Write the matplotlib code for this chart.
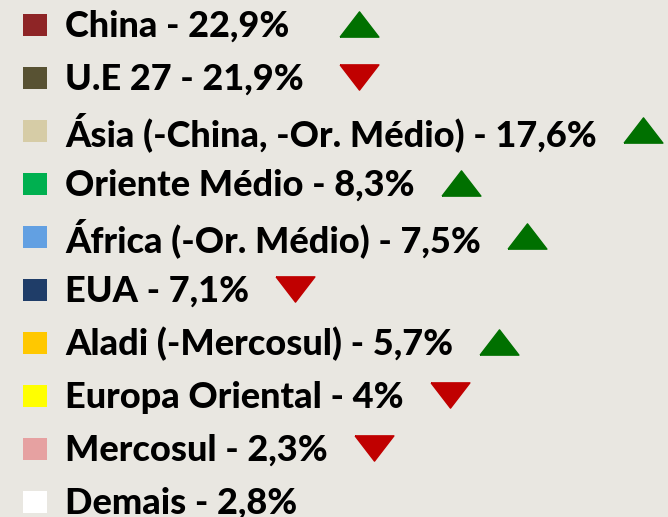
import matplotlib
matplotlib.use("Agg")
import matplotlib.pyplot as plt
from matplotlib.patches import Rectangle
import numpy as np

# legend entries: region, share (%), trend (1 up, -1 down, 0 none)
regions = ["China", "U.E 27", "Ásia (-China, -Or. Médio)", "Oriente Médio",
           "África (-Or. Médio)", "EUA", "Aladi (-Mercosul)", "Europa Oriental",
           "Mercosul", "Demais"]
shares = ["22,9%", "21,9%", "17,6%", "8,3%", "7,5%", "7,1%", "5,7%", "4%", "2,3%", "2,8%"]
trend = [1, -1, 1, 1, 1, -1, 1, -1, -1, 0]
colors = ["#8E2526", "#585233", "#D6CCA6", "#00B050", "#62A0E2", "#1F3D68",
          "#FFC800", "#FFFF00", "#E6A1A1", "#FFFFFF"]

W, H = 668, 517
fig = plt.figure(figsize=(W / 100, H / 100), dpi=100)
fig.patch.set_facecolor("#E9E7E1")
ax = fig.add_axes([0, 0, 1, 1])
ax.set_xlim(0, W)
ax.set_ylim(H, 0)
ax.axis("off")

y0, step = 25, 53
texts = []
for i, (r, s) in enumerate(zip(regions, shares)):
    y = y0 + i * step
    ax.add_patch(Rectangle((23, y - 11), 24, 22, facecolor=colors[i],
                           edgecolor="none"))
    t = ax.text(65, y + 1, f"{r} - {s}", fontsize=26, fontweight=900,
                family="Lato", va="center", ha="left", color="black")
    texts.append(t)

fig.canvas.draw()
renderer = fig.canvas.get_renderer()
ends = [t.get_window_extent(renderer).transformed(ax.transData.inverted()).x1
        for t in texts]
up = [(-1, -0.65), (1, -0.65), (0, 0.65), (-1, -0.65)]
down = [(-1, 0.65), (1, 0.65), (0, -0.65), (-1, 0.65)]
for i in range(len(texts)):
    if trend[i] == 0:
        continue
    # first two arrows share one column, the rest follow their label
    x = max(ends[:2]) + 55 if i < 2 else ends[i] + 46
    y = y0 + i * step - 1
    ax.plot(x, y, marker=up if trend[i] > 0 else down, markersize=28,
            color="#007000" if trend[i] > 0 else "#C00000", linestyle="none")

fig.savefig("out.png", dpi=100, facecolor=fig.get_facecolor())
